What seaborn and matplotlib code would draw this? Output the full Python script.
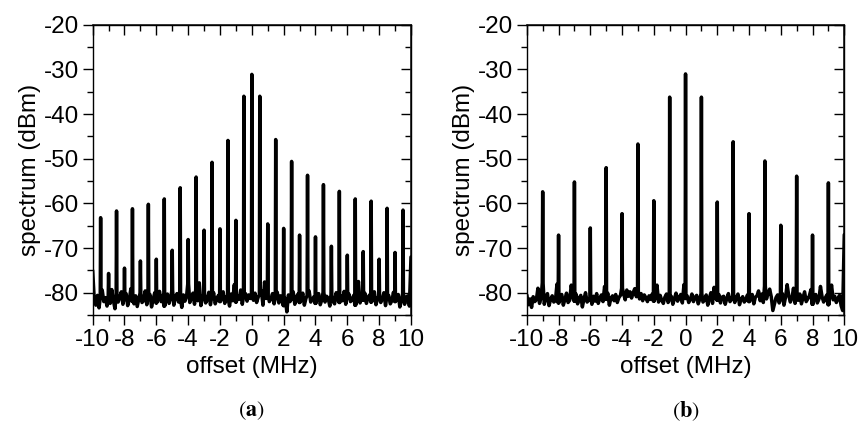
import numpy as np
import pandas as pd
import matplotlib
matplotlib.use("Agg")
import matplotlib.pyplot as plt
from matplotlib.ticker import MultipleLocator
import seaborn as sns

sns.set_theme(style="ticks")
plt.rcParams['font.family'] = ['Liberation Sans Narrow', 'Liberation Sans', 'DejaVu Sans']
plt.rcParams['mathtext.fontset'] = 'stix'

# ---------------- data ----------------
# panel (a): comb lines every 0.5 MHz
peaks_a_x = [-9.5, -9.0, -8.5, -8.0, -7.5, -7.0, -6.5, -6.0, -5.5, -5.0,
             -4.5, -4.0, -3.5, -3.0, -2.5, -2.0, -1.5, -1.0, -0.5, 0.0,
             0.5, 1.0, 1.5, 2.0, 2.5, 3.0, 3.5, 4.0, 4.5, 5.0,
             5.5, 6.0, 6.5, 7.0, 7.5, 8.0, 8.5, 9.0, 9.5]
peaks_a_y = [-63.2, -75.7, -61.7, -74.5, -61.2, -72.9, -60.2, -72.5, -59.0, -70.5,
             -56.5, -68.1, -54.1, -66.0, -50.8, -65.7, -45.9, -63.8, -36.0, -31.1,
             -36.0, -64.6, -45.7, -65.6, -50.6, -67.1, -53.7, -67.5, -55.8, -69.6,
             -57.3, -71.6, -59.0, -70.8, -59.5, -72.5, -61.1, -71.0, -61.5]

# panel (b): comb lines every 1 MHz
peaks_b_x = [-9, -8, -7, -6, -5, -4, -3, -2, -1, 0, 1, 2, 3, 4, 5, 6, 7, 8, 9]
peaks_b_y = [-57.4, -67.1, -55.2, -65.5, -52.0, -62.3, -46.7, -59.4, -36.2, -31.0,
             -36.2, -59.7, -46.2, -62.3, -50.5, -64.9, -53.9, -67.1, -55.4]

noise_a = [
    -75.0, -81.5, -82.8, -80.6, -83.4, -81.2, -79.4, -82.0, -81.1, -83.0, -80.9, -82.4, -79.3, -81.7, -83.6, -80.8, -82.1, -81.0, -79.8, -82.6,
    -81.3, -80.2, -82.9, -81.6, -79.1, -81.9, -82.5, -80.7, -83.1, -81.4, -80.1, -82.2, -81.8, -79.6, -82.7, -81.0, -80.4, -83.2, -81.5, -80.0,
    -82.3, -81.1, -79.7, -82.0, -80.6, -83.0, -81.7, -80.3, -82.4, -81.2, -79.5, -82.8, -81.0, -80.2, -82.1, -81.6, -83.3, -80.5, -81.9, -80.8,
    -78.0, -82.2, -81.3, -80.1, -82.6, -79.2, -81.8, -77.8, -82.9, -81.0, -80.4, -82.3, -81.5, -79.9, -82.7, -81.1, -80.0, -82.5, -81.4, -80.6,
    -82.0, -81.2, -79.8, -82.4, -80.9, -81.6, -83.0, -80.3, -81.8, -78.2, -82.1, -80.7, -81.5, -79.4, -82.6, -81.0, -80.2, -81.9, -80.5, -81.3,
    -80.8, -81.7, -80.1, -82.2, -81.0, -80.4, -79.5, -82.8, -77.6, -81.3, -80.6, -82.0, -81.4, -80.2, -82.5, -81.1, -79.9, -82.3, -80.7, -81.6,
    -82.9, -81.2, -84.3, -80.5, -82.0, -81.4, -79.8, -82.6, -81.0, -80.3, -82.2, -81.7, -80.1, -82.8, -81.3, -80.6, -79.6, -82.1, -81.5, -80.9,
    -82.4, -81.0, -80.2, -82.7, -81.6, -79.9, -82.1, -80.8, -81.3, -83.0, -80.4, -81.9, -82.5, -80.0, -81.4, -82.2, -80.7, -81.8, -79.7, -82.6,
    -81.1, -80.3, -82.0, -81.5, -80.6, -82.8, -81.2, -77.5, -82.3, -80.9, -81.7, -80.1, -82.4, -81.0, -80.5, -82.1, -81.6, -79.8, -82.7, -81.3,
    -80.8, -82.2, -81.4, -80.0, -82.9, -81.1, -80.6, -82.5, -81.8, -79.9, -82.0, -81.3, -80.4, -83.2, -81.7, -80.2, -82.6, -81.0, -80.7, -83.0,
    -72.0]
noise_b = [
    -80.5, -82.7, -81.4, -83.3, -80.9, -82.0, -81.6, -79.0, -82.4, -81.1, -77.8, -82.6, -81.3, -80.2, -82.9, -81.5, -80.7, -82.1, -81.8, -78.1,
    -82.3, -81.0, -80.4, -82.8, -81.5, -80.1, -82.2, -81.7, -78.3, -80.9, -81.9, -80.3, -82.5, -81.2, -80.6, -83.2, -81.4, -80.0, -82.1, -81.6,
    -81.0, -82.6, -80.8, -81.9, -80.2, -82.4, -81.3, -80.5, -82.0, -78.6, -81.5, -80.1, -82.8, -81.2, -80.7, -81.8, -80.4, -82.2, -81.1, -80.6,
    -79.0, -80.3, -81.6, -79.4, -80.8, -79.8, -81.2, -80.0, -79.1, -80.9, -79.6, -81.4, -80.2, -81.8, -80.5, -81.1, -82.0, -80.7, -81.5, -80.3,
    -81.9, -81.2, -78.3, -82.1, -80.6, -81.7, -82.4, -81.0, -80.3, -82.2, -81.5, -80.8, -82.6, -81.3, -80.1, -81.9, -81.0, -80.4, -82.3, -78.2,
    -81.3, -80.7, -82.2, -81.5, -80.3, -82.0, -81.0, -80.6, -82.5, -81.4, -80.2, -82.1, -81.6, -80.5, -82.8, -81.2, -80.0, -82.4, -78.8, -81.1,
    -81.7, -80.4, -82.3, -81.0, -80.8, -82.6, -81.3, -80.2, -82.0, -81.5, -80.6, -82.2, -81.1, -80.3, -82.7, -81.4, -80.9, -82.1, -81.6, -80.5,
    -82.0, -81.2, -80.4, -82.5, -81.0, -80.7, -79.6, -81.8, -80.3, -82.2, -78.5, -81.4, -80.1, -79.2, -80.9, -84.0, -82.6, -81.1, -80.5, -82.3,
    -81.5, -80.2, -82.8, -81.0, -78.2, -80.6, -82.1, -81.3, -79.0, -82.4, -80.8, -81.7, -80.3, -82.5, -81.1, -79.8, -82.0, -81.4, -80.7, -79.3,
    -82.6, -81.0, -80.4, -82.3, -81.5, -78.6, -80.9, -82.1, -81.2, -80.5, -82.7, -80.0, -78.3, -81.6, -80.8, -82.2, -81.3, -80.6, -82.9, -84.0,
    -67.0]

xticks = [-10, -8, -6, -4, -2, 0, 2, 4, 6, 8, 10]
xticklabels = ["-10", "-8", "-6", "-4", "-2", "0", "2", "4", "6", "8", "10"]
yticks = [-80, -70, -60, -50, -40, -30, -20]
yticklabels = ["-80", "-70", "-60", "-50", "-40", "-30", "-20"]


def build_trace(noise, px, py, half=0.025):
    grid = np.round(np.linspace(-10, 10, len(noise)), 3)
    noise = np.asarray(noise, float)
    px = np.asarray(px, float)
    keep = ~np.isin(grid, np.round(px, 3))
    xs = [grid[keep]]
    ys = [noise[keep]]
    for p, v in zip(px, py):
        base = np.interp(p, grid, noise)
        xs.append([p - half, p, p + half])
        ys.append([base, v, base])
    df = pd.DataFrame({"offset": np.concatenate(xs), "spectrum": np.concatenate(ys)})
    return df.sort_values("offset", kind="mergesort").reset_index(drop=True)


df_a = build_trace(noise_a, peaks_a_x, peaks_a_y)
df_b = build_trace(noise_b, peaks_b_x, peaks_b_y)

fig = plt.figure(figsize=(8.58, 4.28), dpi=100)
ax_a = fig.add_axes([0.108, 0.264, 0.371, 0.678])
ax_b = fig.add_axes([0.614, 0.264, 0.370, 0.678])

FS = 17.5
for ax, df, lab, xc in [(ax_a, df_a, "a", 0.2935), (ax_b, df_b, "b", 0.799)]:
    sns.lineplot(data=df, x="offset", y="spectrum", ax=ax, color="black",
                 linewidth=2.5, estimator=None, sort=False)
    ax.set_xlim(-10, 10)
    ax.set_ylim(-85, -20)
    ax.set_xticks(xticks)
    ax.set_xticklabels(xticklabels)
    ax.set_yticks(yticks)
    ax.set_yticklabels(yticklabels)
    ax.xaxis.set_minor_locator(MultipleLocator(1))
    ax.yaxis.set_minor_locator(MultipleLocator(5))
    ax.tick_params(which="both", direction="out", width=1.0, colors="black",
                   labelsize=FS, pad=3)
    ax.tick_params(which="major", length=7)
    ax.tick_params(which="minor", length=4)
    for s in ax.spines.values():
        s.set_color("black")
        s.set_linewidth(1.0)
        s.set_visible(True)
    # mirrored inward ticks on top and right
    top = ax.secondary_xaxis("top")
    top.set_xticks(xticks)
    top.xaxis.set_minor_locator(MultipleLocator(1))
    top.tick_params(which="both", direction="in", labeltop=False, colors="black", width=1.0)
    top.tick_params(which="major", length=7)
    top.tick_params(which="minor", length=4)
    right = ax.secondary_yaxis("right")
    right.set_yticks(yticks)
    right.yaxis.set_minor_locator(MultipleLocator(5))
    right.tick_params(which="both", direction="in", labelright=False, colors="black", width=1.0)
    right.tick_params(which="major", length=7)
    right.tick_params(which="minor", length=4)
    ax.set_xlabel("offset (MHz)", fontsize=FS, color="black", labelpad=4)
    ax.set_ylabel("spectrum (dBm)", fontsize=FS, color="black", labelpad=2)
    fig.text(xc, 1 - 411 / 428, r"$(\mathbf{%s})$" % lab, ha="center", va="center",
             fontsize=16, color="black")

fig.savefig("out.png", dpi=100)
